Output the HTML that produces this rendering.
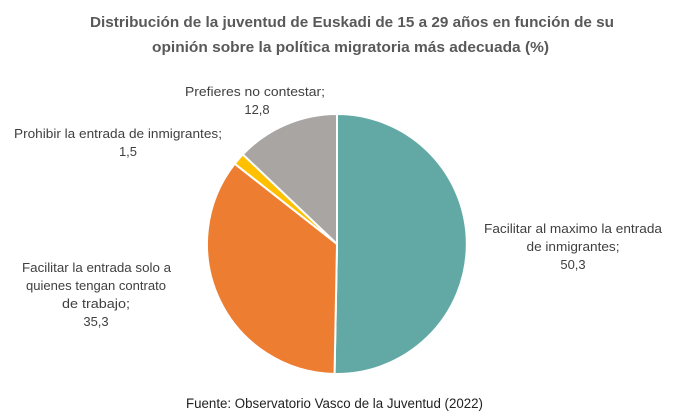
<!DOCTYPE html>
<html><head><meta charset="utf-8"><style>
html,body{margin:0;padding:0;background:#fff;}
svg{display:block;}
text{font-family:"Liberation Sans",sans-serif;}
</style></head><body>
<svg width="700" height="418" viewBox="0 0 700 418">
<rect width="700" height="418" fill="#fff"/>
<g font-weight="bold" font-size="15" fill="#595959" text-anchor="start">
<text x="90" y="27" textLength="524" lengthAdjust="spacingAndGlyphs">Distribución de la juventud de Euskadi de 15 a 29 años en función de su</text>
<text x="152" y="52" textLength="397" lengthAdjust="spacingAndGlyphs">opinión sobre la política migratoria más adecuada (%)</text>
</g>
<g stroke="#fff" stroke-width="2" stroke-linejoin="round">
<path d="M337,244 L337,114 A130,130 0 1 1 334.55,373.98 Z" fill="#62a9a5"/>
<path d="M337,244 L334.55,373.98 A130,130 0 0 1 234.7,163.75 Z" fill="#ed7d31"/>
<path d="M337,244 L234.7,163.75 A130,130 0 0 1 242.8,154.4 Z" fill="#ffc000"/>
<path d="M337,244 L242.8,154.4 A130,130 0 0 1 337,114 Z" fill="#a9a5a3"/>
</g>
<g font-size="13" fill="#404040">
<text x="185" y="96" textLength="140" lengthAdjust="spacingAndGlyphs">Prefieres no contestar;</text>
<text x="257" y="114" text-anchor="middle">12,8</text>
<text x="14" y="138" textLength="208" lengthAdjust="spacingAndGlyphs">Prohibir la entrada de inmigrantes;</text>
<text x="128" y="156" text-anchor="middle">1,5</text>
<text x="484" y="233" textLength="178" lengthAdjust="spacingAndGlyphs">Facilitar al maximo la entrada</text>
<text x="573" y="251" text-anchor="middle" textLength="93" lengthAdjust="spacingAndGlyphs">de inmigrantes;</text>
<text x="573" y="269" text-anchor="middle">50,3</text>
<text x="22" y="272" textLength="149" lengthAdjust="spacingAndGlyphs">Facilitar la entrada solo a</text>
<text x="96" y="290" text-anchor="middle" textLength="140" lengthAdjust="spacingAndGlyphs">quienes tengan contrato</text>
<text x="96" y="308" text-anchor="middle" textLength="68" lengthAdjust="spacingAndGlyphs">de trabajo;</text>
<text x="96" y="326" text-anchor="middle">35,3</text>
</g>
<text x="186" y="408" font-size="13.5" fill="#222" textLength="297" lengthAdjust="spacingAndGlyphs">Fuente: Observatorio Vasco de la Juventud (2022)</text>
</svg>
</body></html>
